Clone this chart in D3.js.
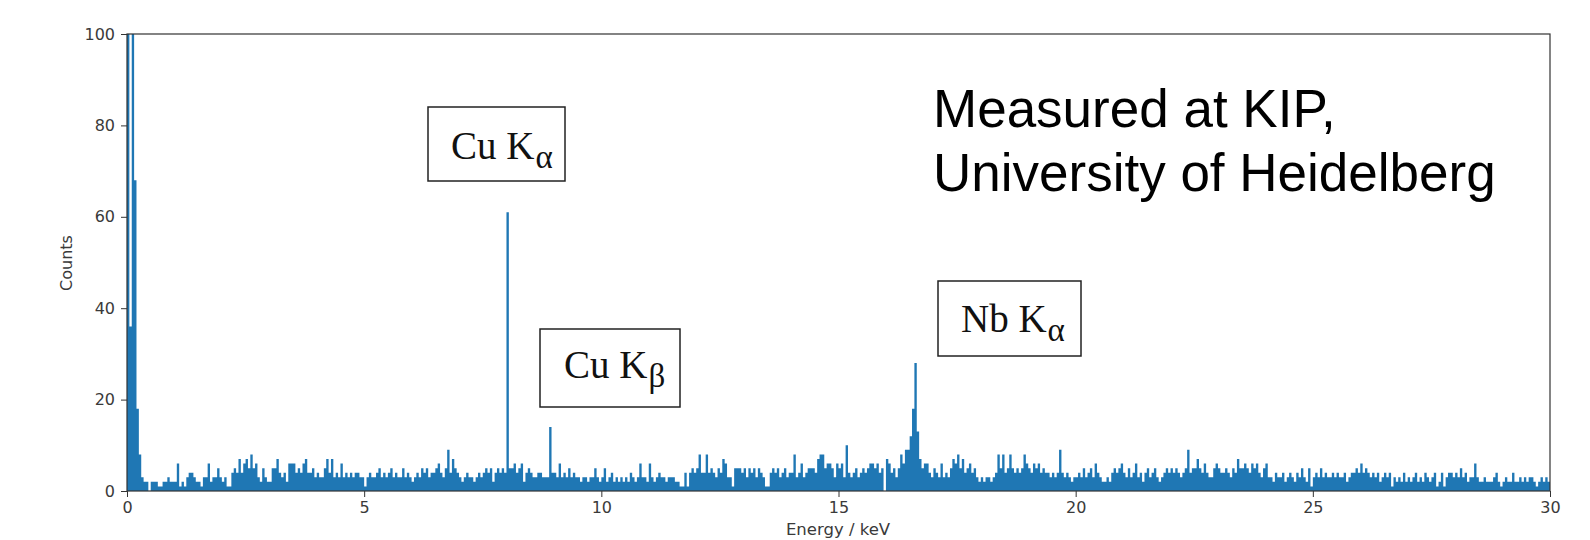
<!DOCTYPE html>
<html>
<head>
<meta charset="utf-8">
<script src="https://cdn.jsdelivr.net/npm/d3@7"></script>
<style>
  body { margin: 0; background: #fff; }
  svg { display: block; }
  .axis text { font-family: "DejaVu Sans", sans-serif; font-size: 16px; fill: #3a3a3a; }
  .axis path, .axis line { stroke: #333; }
</style>
</head>
<body>
<div id="chart"></div>
<script>
// bin width of the spectrum in keV
var binWidth = 0.05

// counts per bin, 0 - 10 keV
var countsLow = [
  150, 36, 240, 68, 18, 8, 3, 2, 2, 0,
  2, 2, 2, 1, 1, 2, 2, 3, 2, 2,
  2, 6, 1, 2, 1, 3, 4, 4, 3, 2,
  2, 1, 3, 3, 6, 2, 3, 3, 5, 3,
  2, 3, 1, 1, 4, 5, 4, 7, 4, 6,
  7, 5, 8, 5, 6, 3, 2, 5, 3, 2,
  2, 5, 5, 7, 4, 3, 4, 2, 6, 6,
  6, 4, 5, 4, 6, 7, 4, 4, 5, 3,
  4, 3, 3, 5, 7, 4, 7, 3, 4, 3,
  6, 3, 4, 3, 4, 3, 4, 4, 3, 3,
  1, 3, 4, 3, 3, 4, 5, 3, 4, 3,
  4, 5, 3, 4, 3, 3, 5, 3, 4, 3,
  2, 3, 4, 3, 5, 4, 5, 3, 4, 4,
  5, 6, 4, 3, 5, 9, 4, 7, 5, 4,
  3, 2, 3, 4, 3, 3, 2, 3, 4, 3,
  4, 5, 4, 5, 2, 4, 5, 4, 5, 4,
  61, 5, 5, 6, 4, 5, 6, 2, 4, 5,
  4, 3, 3, 4, 4, 3, 3, 3, 14, 4,
  4, 3, 6, 3, 4, 3, 5, 3, 4, 3,
  3, 2, 3, 3, 2, 3, 3, 5, 3, 2
]

// 10 - 20 keV
var countsMid = [
  3, 5, 2, 3, 4, 2, 3, 2, 3, 2,
  3, 2, 4, 3, 2, 3, 6, 3, 3, 2,
  6, 3, 2, 3, 4, 3, 3, 2, 3, 3,
  3, 2, 2, 1, 1, 4, 1, 4, 5, 4,
  5, 8, 4, 4, 8, 4, 5, 4, 3, 5,
  4, 7, 6, 3, 3, 1, 5, 5, 5, 4,
  5, 3, 5, 4, 5, 3, 5, 4, 3, 1,
  1, 4, 5, 4, 5, 3, 4, 5, 3, 4,
  4, 8, 3, 4, 6, 3, 4, 5, 5, 5,
  4, 7, 8, 8, 5, 6, 6, 5, 3, 6,
  5, 6, 3, 10, 4, 3, 4, 5, 3, 4,
  5, 4, 5, 6, 6, 5, 6, 4, 5, 0,
  7, 6, 4, 5, 3, 5, 8, 6, 9, 9,
  12, 18, 28, 13, 7, 5, 6, 6, 4, 3,
  5, 4, 3, 6, 3, 4, 3, 5, 7, 6,
  8, 5, 7, 4, 5, 6, 4, 5, 3, 2,
  3, 2, 3, 3, 2, 3, 4, 8, 5, 8,
  4, 5, 8, 5, 4, 5, 4, 5, 8, 6,
  5, 4, 6, 5, 6, 4, 5, 4, 4, 3,
  4, 3, 4, 9, 4, 3, 4, 3, 2, 3
]

// 20 - 30 keV
var countsHigh = [
  3, 4, 3, 5, 3, 4, 5, 3, 6, 4,
  3, 2, 2, 3, 2, 4, 5, 4, 5, 6,
  4, 3, 5, 3, 4, 6, 3, 4, 2, 4,
  5, 3, 4, 5, 3, 2, 3, 4, 5, 4,
  5, 4, 5, 4, 3, 4, 5, 9, 4, 5,
  5, 7, 5, 4, 6, 4, 3, 3, 5, 6,
  5, 4, 4, 5, 4, 3, 5, 4, 7, 5,
  5, 6, 5, 4, 6, 5, 6, 4, 3, 5,
  6, 3, 3, 2, 4, 3, 3, 4, 2, 3,
  4, 3, 2, 4, 3, 5, 3, 2, 5, 1,
  3, 4, 3, 5, 3, 4, 3, 3, 4, 3,
  4, 3, 3, 4, 2, 3, 4, 4, 5, 4,
  6, 4, 5, 4, 3, 4, 3, 4, 2, 3,
  4, 3, 4, 1, 3, 2, 3, 2, 4, 2,
  3, 2, 3, 4, 2, 3, 2, 4, 3, 2,
  3, 4, 1, 2, 4, 1, 3, 4, 4, 3,
  4, 3, 5, 3, 4, 2, 3, 3, 6, 3,
  2, 2, 3, 2, 2, 2, 3, 4, 2, 1,
  2, 3, 2, 2, 4, 2, 2, 3, 2, 3,
  2, 3, 3, 2, 1, 2, 3, 2, 3, 2
]

var xTicks = [0, 5, 10, 15, 20, 25, 30]
var yTicks = [0, 20, 40, 60, 80, 100]

// peak labels: element + line, subscript
var peakNames = ["Cu K", "Cu K", "Nb K"]
var peakSubs = ["\u03b1", "\u03b2", "\u03b1"]
var noteLines = ["Measured at KIP,", "University of Heidelberg"]

var width = 1590, height = 540
var margin = { left: 127, right: 40, top: 34, bottom: 49 }

var counts = countsLow.concat(countsMid, countsHigh)
var bins = counts.map(function(c, i) { return { e: i * binWidth, c: c } })
bins.push({ e: 30, c: counts[counts.length - 1] })

var x = d3.scaleLinear().domain([0, 30]).range([margin.left, width - margin.right])
var y = d3.scaleLinear().domain([0, 100]).range([height - margin.bottom, margin.top])

var svg = d3.select("#chart").append("svg")
  .attr("width", width)
  .attr("height", height)

svg.append("defs").append("clipPath").attr("id", "plotclip")
  .append("rect")
  .attr("x", x(0)).attr("y", y(100))
  .attr("width", x(30) - x(0)).attr("height", y(0) - y(100))

var area = d3.area()
  .curve(d3.curveStepAfter)
  .x(function(d) { return x(d.e) })
  .y0(y(0))
  .y1(function(d) { return y(d.c) })

svg.append("path")
  .datum(bins)
  .attr("clip-path", "url(#plotclip)")
  .attr("fill", "#1f77b4")
  .attr("d", area)

// frame
svg.append("rect")
  .attr("x", x(0)).attr("y", y(100))
  .attr("width", x(30) - x(0)).attr("height", y(0) - y(100))
  .attr("fill", "none")
  .attr("stroke", "#333")
  .attr("stroke-width", 1.2)

var xAxis = d3.axisBottom(x).tickValues(xTicks).tickSize(6).tickPadding(5).tickFormat(d3.format("d"))
svg.append("g")
  .attr("class", "axis")
  .attr("transform", "translate(0," + y(0) + ")")
  .call(xAxis)
  .call(function(g) { g.select(".domain").remove() })

var yAxis = d3.axisLeft(y).tickValues(yTicks).tickSize(6).tickPadding(6).tickFormat(d3.format("d"))
svg.append("g")
  .attr("class", "axis")
  .attr("transform", "translate(" + x(0) + ",0)")
  .call(yAxis)
  .call(function(g) { g.select(".domain").remove() })

svg.append("text")
  .attr("x", 838).attr("y", 535)
  .attr("text-anchor", "middle")
  .style("font-family", "DejaVu Sans, sans-serif")
  .style("font-size", "16.5px")
  .style("fill", "#3a3a3a")
  .text("Energy / keV")

svg.append("text")
  .attr("transform", "translate(72,263) rotate(-90)")
  .attr("text-anchor", "middle")
  .style("font-family", "DejaVu Sans, sans-serif")
  .style("font-size", "16px")
  .style("fill", "#3a3a3a")
  .text("Counts")

// annotation boxes
var boxes = [
  { x0: 428, y0: 107, x1: 565, y1: 181, tx: 451, ty: 159 },
  { x0: 540, y0: 329, x1: 680, y1: 407, tx: 564, ty: 378 },
  { x0: 938, y0: 281, x1: 1081, y1: 356, tx: 961, ty: 332 }
]

boxes.forEach(function(b, i) {
  svg.append("rect")
    .attr("x", b.x0).attr("y", b.y0)
    .attr("width", b.x1 - b.x0).attr("height", b.y1 - b.y0)
    .attr("fill", "#fff")
    .attr("stroke", "#222")
    .attr("stroke-width", 1.5)
  var t = svg.append("text")
    .attr("x", b.tx).attr("y", b.ty)
    .style("font-family", "Liberation Serif, serif")
    .style("font-size", "39px")
    .style("fill", "#111")
  t.append("tspan").text(peakNames[i])
  t.append("tspan")
    .attr("dx", 1)
    .attr("dy", 9)
    .style("font-size", "33px")
    .text(peakSubs[i])
})

svg.selectAll(".note").data(noteLines).enter().append("text")
  .attr("class", "note")
  .attr("x", 933)
  .attr("y", function(d, i) { return 127 + i * 64 })
  .style("font-family", "Liberation Sans, Arial, sans-serif")
  .style("font-size", "53px")
  .style("fill", "#000")
  .text(function(d) { return d })
</script>
</body>
</html>
